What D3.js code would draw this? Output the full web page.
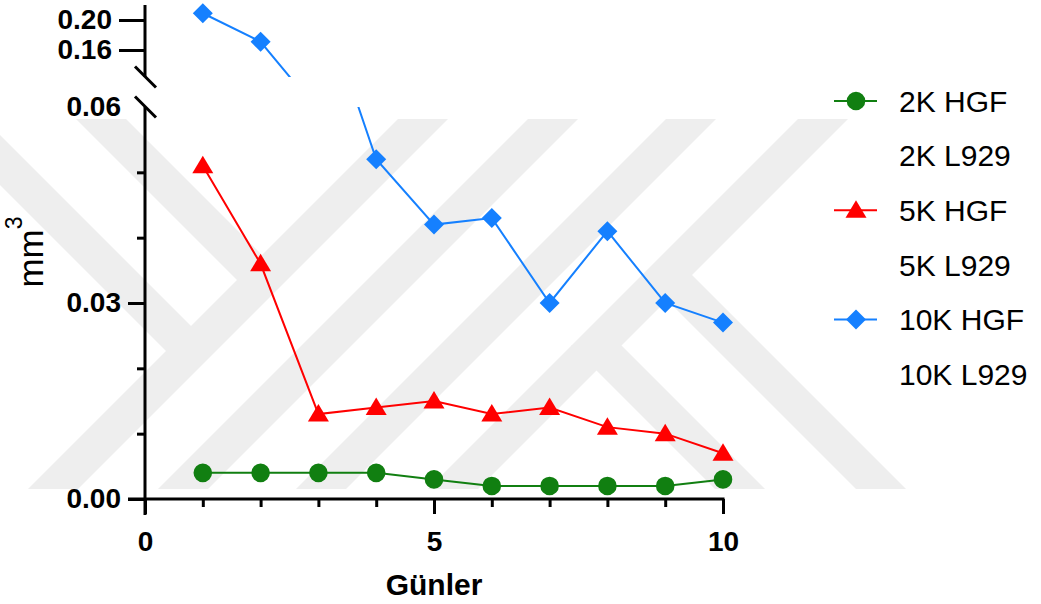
<!DOCTYPE html>
<html>
<head>
<meta charset="utf-8">
<script src="https://d3js.org/d3.v7.min.js"></script>
<style>
  body { margin: 0; background: #fff; }
  text { font-family: Arial, "Liberation Sans", sans-serif; }
</style>
</head>
<body>
<div id="chart"></div>
<script>
// data
var days = [1, 2, 3, 4, 5, 6, 7, 8, 9, 10];
var hgf2k = [0.004, 0.004, 0.004, 0.004, 0.003, 0.002, 0.002, 0.002, 0.002, 0.003];
var hgf5k = [0.051, 0.036, 0.013, 0.014, 0.015, 0.013, 0.014, 0.011, 0.010, 0.007];
var hgf10k = [0.209, 0.171, 0.078, 0.052, 0.042, 0.043, 0.030, 0.041, 0.030, 0.027];
var legendLabels = ["2K HGF", "2K L929", "5K HGF", "5K L929", "10K HGF", "10K L929"];
var xTickValues = [0, 5, 10];
var xMinorTicks = [1, 2, 3, 4, 6, 7, 8, 9];
var yLowTicks = [0, 0.03, 0.06];
var yLowMinor = [0.01, 0.02, 0.04, 0.05];
var yHighTicks = [0.16, 0.20];

var width = 1041, height = 604;

var svg = d3.select("#chart").append("svg")
    .attr("width", width)
    .attr("height", height);

// faint watermark in the background
var wm = svg.append("g").attr("fill", "#eeeeee");
var top0 = 119, bot0 = 489, hw = 25;
[542, 672, 810, 942].forEach(function(c) {   // "/" bands, x + y = c
    wm.append("polygon").attr("points", [
        [c - hw - top0, top0], [c + hw - top0, top0],
        [c + hw - bot0, bot0], [c - hw - bot0, bot0]].join(" "));
});
[[-18, top0, 280], [-160, top0, 351], [251, 345, bot0], [392, 275, bot0]].forEach(function(b) { // "\" bands, x - y = k
    var k = b[0], y0 = b[1], y1 = b[2];
    wm.append("polygon").attr("points", [
        [k - hw + y0, y0], [k + hw + y0, y0],
        [k + hw + y1, y1], [k - hw + y1, y1]].join(" "));
});

// scales
var x = d3.scaleLinear().domain([0, 10]).range([145, 723]);
var yLow = d3.scaleLinear().domain([0, 0.06]).range([499, 107]);
var yHigh = d3.scaleLinear().domain([0.124, 0.22]).range([77, 5]);

var defs = svg.append("defs");
defs.append("clipPath").attr("id", "clipHigh")
    .append("rect").attr("x", 140).attr("y", 0).attr("width", 620).attr("height", 77);
defs.append("clipPath").attr("id", "clipLow")
    .append("rect").attr("x", 140).attr("y", 107).attr("width", 620).attr("height", 420);

// axes
var axisColor = "#000";

// x axis
var gx = svg.append("g").attr("transform", "translate(0,499)");
gx.call(d3.axisBottom(x).tickValues(xTickValues).tickSize(15).tickPadding(17).tickFormat(d3.format("d")));
gx.append("g").call(d3.axisBottom(x).tickValues(xMinorTicks).tickSize(8).tickFormat(""));
gx.selectAll(".domain").remove();
gx.append("line").attr("x1", 128).attr("x2", x(10) + 1.5).attr("stroke", axisColor).attr("stroke-width", 3);
gx.selectAll(".tick line").attr("stroke", axisColor).attr("stroke-width", 3);
gx.selectAll(".tick text").attr("fill", "#000").style("font-size", "28px").style("font-weight", "bold");

// y axis lower segment
var gyl = svg.append("g").attr("transform", "translate(145,0)");
gyl.call(d3.axisLeft(yLow).tickValues(yLowTicks).tickSize(17).tickPadding(7).tickFormat(d3.format(".2f")));
gyl.append("g").call(d3.axisLeft(yLow).tickValues(yLowMinor).tickSize(8).tickFormat(""));
gyl.selectAll(".domain").remove();
gyl.selectAll(".tick").filter(function(d) { return d === 0.06; }).select("line").remove();
gyl.append("line").attr("y1", 107).attr("y2", 515).attr("stroke", axisColor).attr("stroke-width", 3);
gyl.selectAll(".tick line").attr("stroke", axisColor).attr("stroke-width", 3);
gyl.selectAll(".tick text").attr("fill", "#000").style("font-size", "28px").style("font-weight", "bold");

// y axis upper segment
var gyh = svg.append("g").attr("transform", "translate(145,0)");
gyh.call(d3.axisLeft(yHigh).tickValues(yHighTicks).tickSize(26).tickPadding(7).tickFormat(d3.format(".2f")));
gyh.selectAll(".domain").remove();
gyh.append("line").attr("y1", 5).attr("y2", 77).attr("stroke", axisColor).attr("stroke-width", 3);
gyh.selectAll(".tick line").attr("stroke", axisColor).attr("stroke-width", 3);
gyh.selectAll(".tick text").attr("fill", "#000").style("font-size", "28px").style("font-weight", "bold");

// break marks
[yHigh.range()[0], yLow.range()[1]].forEach(function(yy) {
    svg.append("line")
        .attr("x1", 135).attr("y1", yy - 10.5)
        .attr("x2", 156).attr("y2", yy + 10.5)
        .attr("stroke", axisColor).attr("stroke-width", 3);
});

// axis titles
svg.append("text")
    .attr("x", 434).attr("y", 595)
    .attr("text-anchor", "middle")
    .style("font-size", "30px").style("font-weight", "bold")
    .text("Günler");

var yt = svg.append("text")
    .attr("transform", "translate(43,252) rotate(-90)")
    .attr("text-anchor", "middle")
    .style("font-size", "35px");
yt.append("tspan").text("mm");
yt.append("tspan").attr("dy", -21).style("font-size", "23px").text("3");

// series
var series = [
    {name: "2K HGF", values: hgf2k, color: "#117F11", shape: "circle"},
    {name: "5K HGF", values: hgf5k, color: "#FF0000", shape: "triangle"},
    {name: "10K HGF", values: hgf10k, color: "#1580FF", shape: "diamond"}
];

function markerPath(shape) {
    if (shape === "triangle") return "M0,-10L10.5,7.5L-10.5,7.5Z";
    if (shape === "diamond") return "M0,-10L10,0L0,10L-10,0Z";
    return "M9.3,0A9.3,9.3 0 1,1 -9.3,0A9.3,9.3 0 1,1 9.3,0Z";
}

function drawSeries(s, yScale, clipId) {
    var pts = days.map(function(d, i) { return [x(d), yScale(s.values[i])]; });
    var g = svg.append("g").attr("clip-path", "url(#" + clipId + ")");
    g.append("path")
        .attr("d", d3.line()(pts))
        .attr("fill", "none")
        .attr("stroke", s.color)
        .attr("stroke-width", 2);
    g.selectAll("path.marker")
        .data(pts)
        .enter()
        .append("path")
            .attr("class", "marker")
            .attr("transform", function(p) { return "translate(" + p[0] + "," + p[1] + ")"; })
            .attr("d", markerPath(s.shape))
            .attr("fill", s.color);
}

// draw blue first, then red, then green on top
drawSeries(series[2], yHigh, "clipHigh");
drawSeries(series[2], yLow, "clipLow");
drawSeries(series[1], yLow, "clipLow");
drawSeries(series[0], yLow, "clipLow");

// legend
var legendColors = {"2K HGF": series[0], "5K HGF": series[1], "10K HGF": series[2]};
var lg = svg.append("g");
legendLabels.forEach(function(lab, i) {
    var yy = 101 + i * 54.6;
    var s = legendColors[lab];
    if (s) {
        lg.append("line")
            .attr("x1", 834).attr("x2", 877)
            .attr("y1", yy).attr("y2", yy)
            .attr("stroke", s.color).attr("stroke-width", 2);
        lg.append("path")
            .attr("transform", "translate(856," + yy + ")")
            .attr("d", markerPath(s.shape))
            .attr("fill", s.color);
    }
    lg.append("text")
        .attr("x", 899).attr("y", yy)
        .attr("dy", "0.36em")
        .style("font-size", "30px")
        .attr("fill", "#000")
        .text(lab);
});
</script>
</body>
</html>
